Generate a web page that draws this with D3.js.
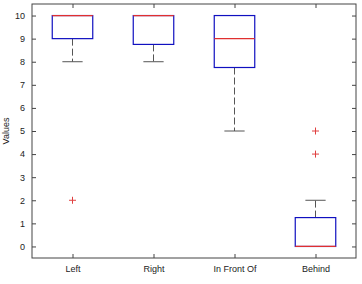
<!DOCTYPE html>
<html>
<head>
<meta charset="utf-8">
<script src="https://cdn.jsdelivr.net/npm/d3@7"></script>
<style>
  body { margin: 0; background: #fff; }
  text { font-family: "Liberation Sans", Arial, sans-serif; fill: #222; }
</style>
</head>
<body>
<div id="chart"></div>
<script>
// box plot data
const categories = ['Left', 'Right', 'In Front Of', 'Behind'];
const q1 = [9, 8.75, 7.75, 0];
const medians = [10, 10, 9, 0];
const q3 = [10, 10, 10, 1.25];
const whiskerLow = [8, 8, 5, 0];
const whiskerHigh = [10, 10, 10, 2];
const outliers = [[2], [], [], [4, 5]];
const yTicks = [0, 1, 2, 3, 4, 5, 6, 7, 8, 9, 10];

const W = 362, H = 284;
const margin = {top: 4, right: 6, bottom: 26, left: 32};
const width = W - margin.left - margin.right;
const height = H - margin.top - margin.bottom;

const svg = d3.select('#chart').append('svg')
  .attr('width', W).attr('height', H);
const g = svg.append('g')
  .attr('transform', `translate(${margin.left},${margin.top})`);

const x = d3.scaleLinear().domain([0.5, 4.5]).range([0, width]);
const y = d3.scaleLinear().domain([-0.5, 10.5]).range([height, 0]);

const boxes = categories.map((c, i) => ({
  c, i: i + 1, q1: q1[i], med: medians[i], q3: q3[i],
  lo: whiskerLow[i], hi: whiskerHigh[i], out: outliers[i]
}));

const frameColor = '#444';

// left axis (ticks inward)
const yAxis = g.append('g')
  .call(d3.axisLeft(y).tickValues(yTicks).tickSize(-4).tickPadding(7));
yAxis.select('.domain').remove();
yAxis.selectAll('.tick line').attr('stroke', frameColor);
yAxis.selectAll('.tick text').style('font-size', '9px');

// right axis ticks
const yAxisR = g.append('g').attr('transform', `translate(${width},0)`)
  .call(d3.axisRight(y).tickValues(yTicks).tickSize(-4).tickFormat(''));
yAxisR.select('.domain').remove();
yAxisR.selectAll('.tick line').attr('stroke', frameColor);

// bottom axis
const xAxis = g.append('g').attr('transform', `translate(0,${height})`)
  .call(d3.axisBottom(x).tickValues([1, 2, 3, 4]).tickSize(-4).tickPadding(8)
    .tickFormat((d, i) => categories[i]));
xAxis.select('.domain').remove();
xAxis.selectAll('.tick line').attr('stroke', frameColor);
xAxis.selectAll('.tick text').style('font-size', '9px');

// top ticks
const xAxisT = g.append('g')
  .call(d3.axisTop(x).tickValues([1, 2, 3, 4]).tickSize(-4).tickFormat(''));
xAxisT.select('.domain').remove();
xAxisT.selectAll('.tick line').attr('stroke', frameColor);

// frame
g.append('rect')
  .attr('x', 0).attr('y', 0)
  .attr('width', width).attr('height', height)
  .attr('fill', 'none').attr('stroke', frameColor).attr('stroke-width', 1);

const boxW = x(1.25) - x(1);
const capW = x(1.125) - x(1);

const bg = g.selectAll('.box').data(boxes).enter().append('g');

// whiskers (dashed)
bg.append('line')
  .attr('x1', d => x(d.i)).attr('x2', d => x(d.i))
  .attr('y1', d => y(d.q1)).attr('y2', d => y(d.lo))
  .attr('stroke', '#555').attr('stroke-dasharray', '7,3')
  .attr('display', d => d.q1 > d.lo ? null : 'none');
bg.append('line')
  .attr('x1', d => x(d.i)).attr('x2', d => x(d.i))
  .attr('y1', d => y(d.q3)).attr('y2', d => y(d.hi))
  .attr('stroke', '#555').attr('stroke-dasharray', '7,3')
  .attr('display', d => d.hi > d.q3 ? null : 'none');

// caps
bg.append('line')
  .attr('x1', d => x(d.i) - capW).attr('x2', d => x(d.i) + capW)
  .attr('y1', d => y(d.lo)).attr('y2', d => y(d.lo))
  .attr('stroke', '#555')
  .attr('display', d => d.q1 > d.lo ? null : 'none');
bg.append('line')
  .attr('x1', d => x(d.i) - capW).attr('x2', d => x(d.i) + capW)
  .attr('y1', d => y(d.hi)).attr('y2', d => y(d.hi))
  .attr('stroke', '#555')
  .attr('display', d => d.hi > d.q3 ? null : 'none');

// boxes
bg.append('rect')
  .attr('x', d => x(d.i) - boxW)
  .attr('y', d => y(d.q3))
  .attr('width', 2 * boxW)
  .attr('height', d => y(d.q1) - y(d.q3))
  .attr('fill', 'none').attr('stroke', '#1010c0').attr('stroke-width', 1.2);

// medians
bg.append('line')
  .attr('x1', d => x(d.i) - boxW).attr('x2', d => x(d.i) + boxW)
  .attr('y1', d => y(d.med)).attr('y2', d => y(d.med))
  .attr('stroke', '#e03030').attr('stroke-width', 1.2);

// outliers
const pts = boxes.flatMap(d => d.out.map(v => ({i: d.i, v})));
g.selectAll('.out').data(pts).enter().append('path')
  .attr('d', d => `M${x(d.i) - 3.5},${y(d.v)}h7M${x(d.i)},${y(d.v) - 3.5}v7`)
  .attr('stroke', '#e04040').attr('stroke-width', 1);

// y label
svg.append('text')
  .attr('transform', `translate(9,${margin.top + height / 2}) rotate(-90)`)
  .attr('text-anchor', 'middle')
  .style('font-size', '9px')
  .text('Values');
</script>
</body>
</html>
